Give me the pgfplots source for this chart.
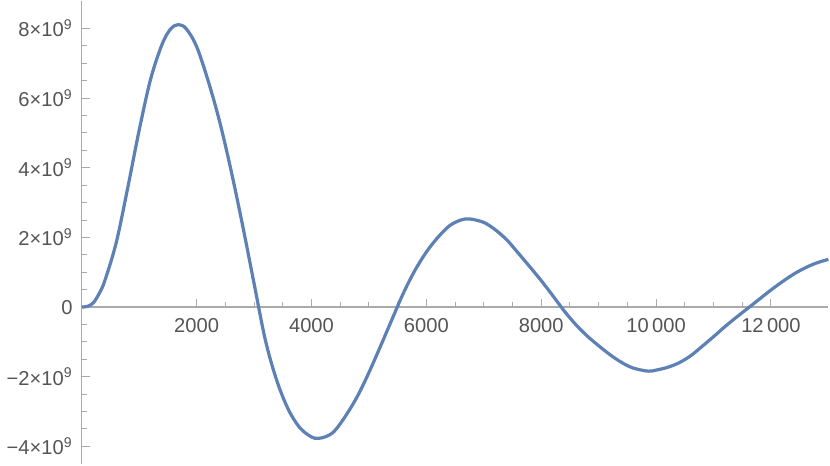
\documentclass[border=0pt]{standalone}
\usepackage{fontspec}
\setmainfont{Liberation Sans}
\usepackage{pgfplots}
\pgfplotsset{compat=1.18}
\definecolor{mmablue}{RGB}{94,129,181}
\definecolor{axgray}{RGB}{170,170,170}
\definecolor{lblgray}{RGB}{85,85,85}

\begin{document}
\begin{tikzpicture}
\begin{axis}[scale only axis,width=371pt,height=230.5pt,
  axis x line=middle,axis y line=left,
  axis line style={-,draw=axgray,line width=0.6pt},
  hide obscured x ticks=false,hide obscured y ticks=false,
  scaled ticks=false,
  xmin=0,xmax=13000,ymin=-4.52e9,ymax=8.8e9,
  xtick={2000,4000,6000,8000,10000,12000},
  xticklabels={2000,4000,6000,8000,10\,000,12\,000},
  ytick={-4e9,-2e9,0,2e9,4e9,6e9,8e9},
  yticklabels={−4×10\textsuperscript{9},−2×10\textsuperscript{9},0,2×10\textsuperscript{9},4×10\textsuperscript{9},6×10\textsuperscript{9},8×10\textsuperscript{9}},
  minor x tick num=3,minor y tick num=3,
  tick align=inside,major tick length=4pt,minor tick length=2.5pt,
  tick style={axgray,line width=0.5pt},
  tick label style={font=\fontsize{10}{12}\selectfont,text=lblgray},
  xticklabel style={yshift=-2pt},yticklabel style={xshift=-1pt},
  clip=false]
\addplot[mmablue,line width=1.6pt,smooth,tension=0.55] coordinates {
  (0,0) (100,0.02e9) (200,0.12e9) (300,0.38e9) (400,0.75e9) (600,1.85e9)
  (800,3.42e9) (1000,5.08e9) (1200,6.55e9) (1400,7.55e9) (1550,7.99e9)
  (1684,8.11e9) (1820,7.99e9) (2000,7.48e9) (2200,6.50e9) (2400,5.33e9)
  (2600,3.92e9) (2800,2.35e9) (3000,0.68e9) (3200,-0.97e9) (3400,-2.13e9)
  (3600,-2.95e9) (3800,-3.47e9) (4000,-3.73e9) (4110,-3.77e9) (4250,-3.72e9)
  (4400,-3.56e9) (4600,-3.11e9) (4800,-2.56e9) (5000,-1.88e9) (5200,-1.13e9)
  (5400,-0.36e9) (5600,0.40e9) (5800,1.05e9) (6000,1.58e9) (6200,2.00e9)
  (6400,2.33e9) (6600,2.50e9) (6760,2.53e9) (7000,2.43e9) (7200,2.22e9)
  (7400,1.93e9) (7600,1.55e9) (7800,1.16e9) (8000,0.76e9) (8200,0.33e9)
  (8400,-0.11e9) (8600,-0.50e9) (8800,-0.83e9) (9000,-1.11e9) (9200,-1.37e9)
  (9400,-1.59e9) (9600,-1.75e9) (9860,-1.84e9) (10000,-1.81e9) (10200,-1.73e9)
  (10400,-1.60e9) (10600,-1.40e9) (10800,-1.13e9) (11000,-0.85e9) (11200,-0.56e9)
  (11400,-0.29e9) (11600,-0.03e9) (11800,0.23e9) (12000,0.49e9) (12200,0.73e9)
  (12400,0.95e9) (12600,1.13e9) (12800,1.27e9) (13000,1.37e9)};
\end{axis}
\end{tikzpicture}
\end{document}
